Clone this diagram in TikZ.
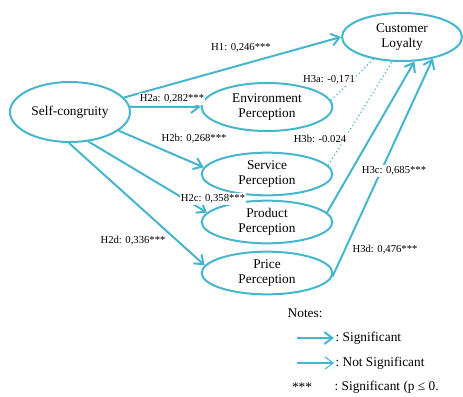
\documentclass[tikz,border=0pt]{standalone}
\usepackage{fontspec}
\setmainfont{Liberation Serif}
\usetikzlibrary{arrows.meta,shapes.geometric}
\definecolor{pathblue}{RGB}{70,182,204}
\tikzset{
    %Define standard arrow tip
    >={Straight Barb[length=6pt,width=9pt]},
    %Define style for constructs
    construct/.style={
      ellipse,
      draw=pathblue, line width=1.5pt,
      inner sep=0pt,
      minimum width=98pt,
      minimum height=32pt,
      align=center,
      font=\normalsize\linespread{0.95}\selectfont},
    % Define path styles
    sig/.style={
      ->,
      draw=pathblue,
      line width=1.5pt},
    notsig/.style={
      draw=pathblue,
      line width=0.9pt,
      dotted},
    coef/.style={
      font=\footnotesize,
      fill=white,
      inner sep=1pt}
}

\begin{document}
\begin{tikzpicture}[x=0.75pt, y=-0.75pt]
    \useasboundingbox (0,0) rectangle (463,396);

    \node[construct, minimum width=90pt, minimum height=36pt] (loyal) at (402,37) {Customer\\Loyalty};
    \node[construct, minimum width=90pt, minimum height=45pt] (self) at (70,112) {Self-congruity};
    \node[construct, minimum height=36pt] (env) at (267,107) {Environment\\Perception};
    \node[construct] (serv) at (267,174) {Service\\Perception};
    \node[construct] (prod) at (267,222) {Product\\Perception};
    \node[construct] (price) at (267,273) {Price\\Perception};

    % self-congruity paths
    \draw[sig] (self.15) -- (loyal.west);
    \draw[sig] (self.5) -- (env.west);
    \draw[sig] (self.-21) -- (serv.174);
    \draw[sig] (self.-58) -- (prod.171);
    \draw[sig] (self.-92) -- (price.173);

    % perception paths
    \draw[notsig] (env.6) -- (loyal.218);
    \draw[notsig] (serv.8) -- (loyal.248);
    \draw[sig] (prod.9) -- (loyal.-63);
    \draw[sig] (price.-3) -- (loyal.-35);

    % coefficients
    \node[coef] (h1) at (241,48) {H1: 0,246***};
    \node[coef] (h2a) at (172,99) {H2a: 0,282***};
    \node[coef] (h2b) at (194,139) {H2b: 0,268***};
    \node[coef] (h2c) at (213,199) {H2c: 0,358***};
    \node[coef] (h2d) at (133,241) {H2d: 0,336***};
    \node[coef] (h3a) at (329,80) {H3a: -0,171};
    \node[coef] (h3b) at (320,139) {H3b: -0.024};
    \node[coef] (h3c) at (394,171) {H3c: 0,685***};
    \node[coef] (h3d) at (385,250) {H3d: 0,476***};

    % notes
    \node[anchor=west] (notes) at (283,313) {Notes:};
    \coordinate (sigfrom) at (297,338);
    \coordinate (sigto) at (334,338);
    \draw[sig] (sigfrom) -- (sigto);
    \node[anchor=west, inner sep=1pt] (sigtxt) at (sigto) {:\ Significant};
    \coordinate (nsfrom) at (297,363);
    \coordinate (nsto) at (334,363);
    \draw[sig, line width=0.8pt] (nsfrom) -- (nsto);
    \node[anchor=west, inner sep=1pt] (nstxt) at (nsto) {:\ Not Significant};
    \node (stars) at (302,387) {***};
    \node[anchor=west, inner sep=1pt] (startxt) at (333,387) {:\ Significant (p ≤ 0.};
\end{tikzpicture}
\end{document}
